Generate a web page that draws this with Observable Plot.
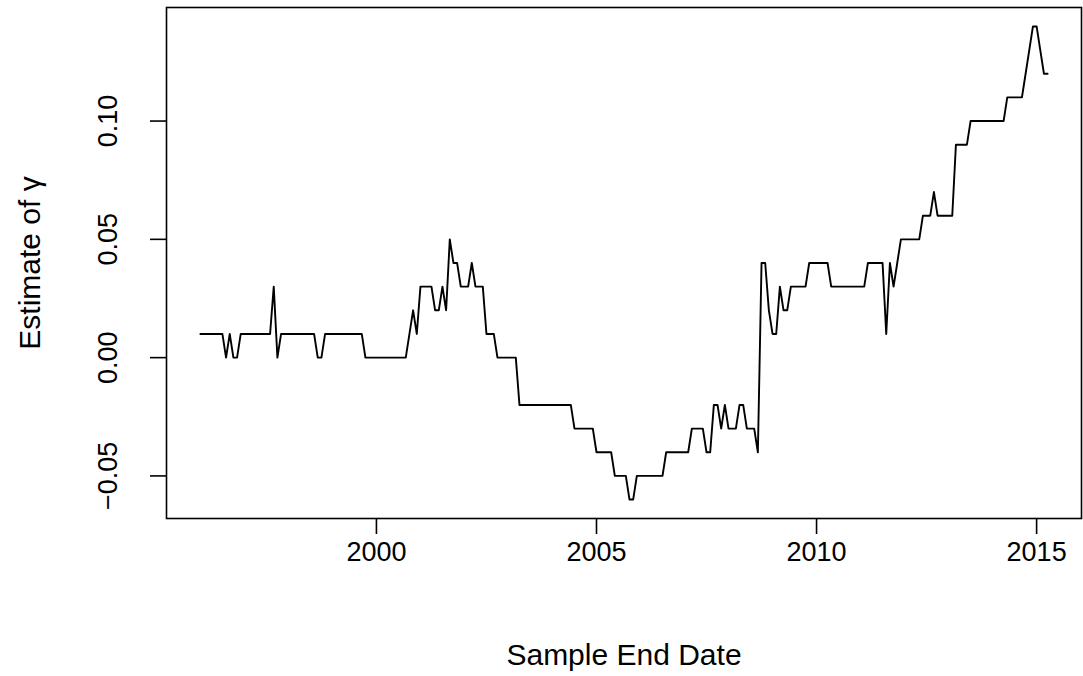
<!DOCTYPE html>
<html>
<head>
<meta charset="utf-8">
<script src="https://cdn.jsdelivr.net/npm/d3@7"></script>
<script src="https://cdn.jsdelivr.net/npm/@observablehq/plot@0.6"></script>
<style>
  html, body { margin: 0; padding: 0; background: #fff; }
  #chart svg { display: block; }
</style>
</head>
<body>
<div id="chart"></div>
<script>
// Monthly series, first observation January 1996
const startYear = 1996;
const gamma = [
  0.01, 0.01, 0.01, 0.01, 0.01, 0.01, 0.01, 0.00, 0.01, 0.00, 0.00, 0.01,   // 1996
  0.01, 0.01, 0.01, 0.01, 0.01, 0.01, 0.01, 0.01, 0.03, 0.00, 0.01, 0.01,   // 1997
  0.01, 0.01, 0.01, 0.01, 0.01, 0.01, 0.01, 0.01, 0.00, 0.00, 0.01, 0.01,   // 1998
  0.01, 0.01, 0.01, 0.01, 0.01, 0.01, 0.01, 0.01, 0.01, 0.00, 0.00, 0.00,   // 1999
  0.00, 0.00, 0.00, 0.00, 0.00, 0.00, 0.00, 0.00, 0.00, 0.01, 0.02, 0.01,   // 2000
  0.03, 0.03, 0.03, 0.03, 0.02, 0.02, 0.03, 0.02, 0.05, 0.04, 0.04, 0.03,   // 2001
  0.03, 0.03, 0.04, 0.03, 0.03, 0.03, 0.01, 0.01, 0.01, 0.00, 0.00, 0.00,   // 2002
  0.00, 0.00, 0.00, -0.02, -0.02, -0.02, -0.02, -0.02, -0.02, -0.02, -0.02, -0.02, // 2003
  -0.02, -0.02, -0.02, -0.02, -0.02, -0.02, -0.03, -0.03, -0.03, -0.03, -0.03, -0.03, // 2004
  -0.04, -0.04, -0.04, -0.04, -0.04, -0.05, -0.05, -0.05, -0.05, -0.06, -0.06, -0.05, // 2005
  -0.05, -0.05, -0.05, -0.05, -0.05, -0.05, -0.05, -0.04, -0.04, -0.04, -0.04, -0.04, // 2006
  -0.04, -0.04, -0.03, -0.03, -0.03, -0.03, -0.04, -0.04, -0.02, -0.02, -0.03, -0.02, // 2007
  -0.03, -0.03, -0.03, -0.02, -0.02, -0.03, -0.03, -0.03, -0.04, 0.04, 0.04, 0.02,     // 2008
  0.01, 0.01, 0.03, 0.02, 0.02, 0.03, 0.03, 0.03, 0.03, 0.03, 0.04, 0.04,   // 2009
  0.04, 0.04, 0.04, 0.04, 0.03, 0.03, 0.03, 0.03, 0.03, 0.03, 0.03, 0.03,   // 2010
  0.03, 0.03, 0.04, 0.04, 0.04, 0.04, 0.04, 0.01, 0.04, 0.03, 0.04, 0.05,   // 2011
  0.05, 0.05, 0.05, 0.05, 0.05, 0.06, 0.06, 0.06, 0.07, 0.06, 0.06, 0.06,   // 2012
  0.06, 0.06, 0.09, 0.09, 0.09, 0.09, 0.10, 0.10, 0.10, 0.10, 0.10, 0.10,   // 2013
  0.10, 0.10, 0.10, 0.10, 0.11, 0.11, 0.11, 0.11, 0.11, 0.12, 0.13, 0.14,   // 2014
  0.14, 0.13, 0.12, 0.12                                                    // 2015
];
const xTicks = [2000, 2005, 2010, 2015];
const yTicks = [-0.05, 0.00, 0.05, 0.10];
const yTickLabels = ["\u22120.05", "0.00", "0.05", "0.10"];
const xTitle = "Sample End Date";
const yTitle = "Estimate of \u03B3";

const data = gamma.map((v, i) => ({date: startYear + i / 12, gamma: v}));

// R-style 4% axis extension
const xExt = (d3.max(data, d => d.date) - startYear) * 0.04;
const yMin = d3.min(gamma), yMax = d3.max(gamma);
const yExt = (yMax - yMin) * 0.04;

const font = "'Liberation Sans', Arial, Helvetica, sans-serif";
const fs = 27;
const fsTitle = 30;

const chart = Plot.plot({
  width: 1083,
  height: 676,
  marginLeft: 166,
  marginRight: 2,
  marginTop: 7,
  marginBottom: 158,
  style: {fontFamily: font, fontSize: fs + "px", background: "#fff", color: "#000"},
  x: {domain: [startYear - xExt, d3.max(data, d => d.date) + xExt]},
  y: {domain: [yMin - yExt, yMax + yExt]},
  marks: [
    Plot.frame({stroke: "#000", strokeWidth: 1.6}),
    Plot.line(data, {x: "date", y: "gamma", stroke: "#000", strokeWidth: 1.9}),
    Plot.axisX({ticks: xTicks, tickSize: 16, tickFormat: () => "", label: null, strokeWidth: 1.6}),
    Plot.axisY({ticks: yTicks, tickSize: 16, tickFormat: () => "", label: null, strokeWidth: 1.6}),
    Plot.text(xTicks, {x: d => d, frameAnchor: "bottom", dy: 34, lineAnchor: "middle", text: d => String(d), fontSize: fs}),
    Plot.text(yTicks, {y: d => d, frameAnchor: "left", dx: -58, rotate: -90, lineAnchor: "middle", textAnchor: "middle", text: (d, i) => yTickLabels[i], fontSize: fs}),
    Plot.text([xTitle], {frameAnchor: "bottom", dy: 137, lineAnchor: "middle", textAnchor: "middle", text: d => d, fontSize: fsTitle}),
    Plot.text([yTitle], {frameAnchor: "left", dx: -136, rotate: -90, lineAnchor: "middle", textAnchor: "middle", text: d => d, fontSize: fsTitle})
  ]
});
document.getElementById("chart").appendChild(chart);
</script>
</body>
</html>
